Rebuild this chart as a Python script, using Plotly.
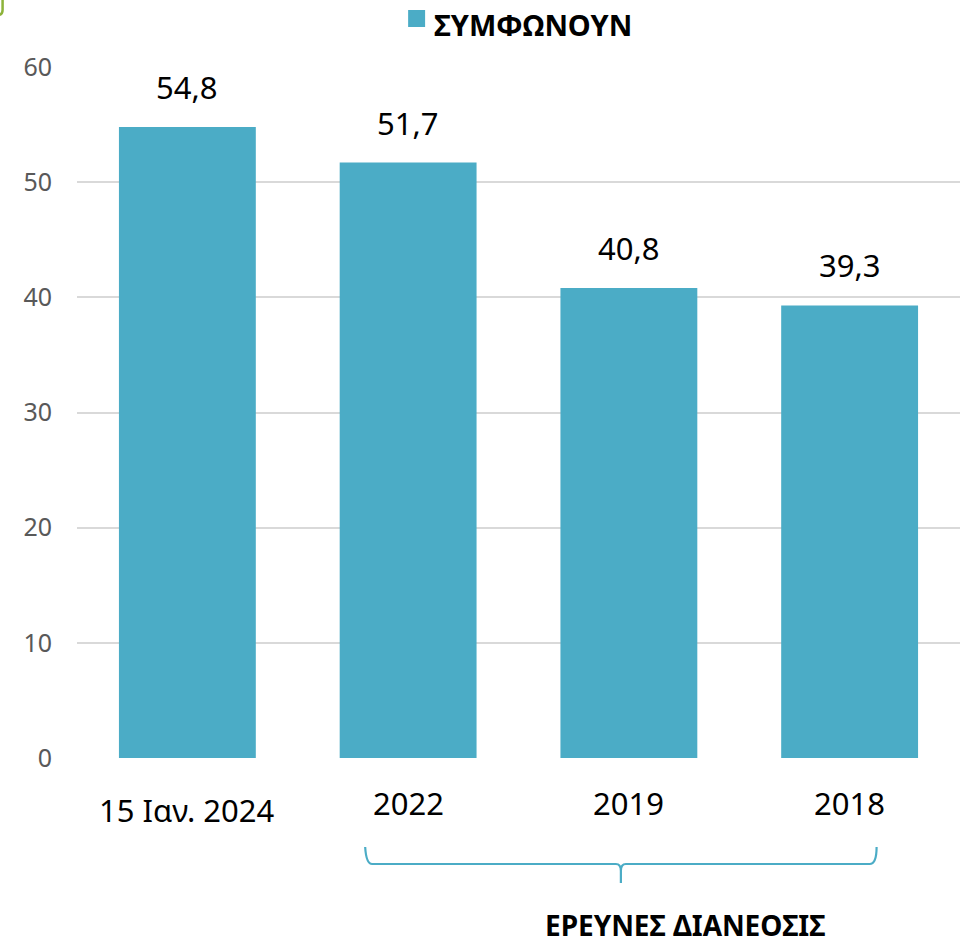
import plotly.graph_objects as go

categories = ["15 Ιαν. 2024", "2022", "2019", "2018"]
values = [54.8, 51.7, 40.8, 39.3]
series_name = "ΣΥΜΦΩΝΟΥΝ"
y_ticks = [0, 10, 20, 30, 40, 50, 60]
bracket_label = "ΕΡΕΥΝΕΣ ΔΙΑΝΕΟΣΙΣ"

BAR = "#4BACC6"
FONT = "Noto Sans"

W, H = 974, 947
L, R, T, B = 76.5, 13.5, 67, 189
pw, ph = W - L - R, H - T - B


def px(xp):
    return (xp - L) / pw


def py(yp):
    return (H - B - yp) / ph


fig = go.Figure()
fig.add_trace(go.Bar(
    x=list(range(len(categories))), y=values, name=series_name,
    marker=dict(color=BAR, line=dict(width=0)),
    width=0.62, showlegend=False, hoverinfo="skip",
))

# value labels
for i, v in enumerate(values):
    fig.add_annotation(
        x=i, y=v, xref="x", yref="y", text=f"{v:.1f}".replace(".", ","),
        showarrow=False, yanchor="bottom", yshift=17,
        font=dict(family=FONT, size=31, color="#000000"),
    )

# category labels (first one sits a little lower, as in the reference)
for i, c in enumerate(categories):
    fig.add_annotation(
        x=i, xref="x", yref="paper", y=py(810 if i == 0 else 803),
        text=c, showarrow=False, xanchor="center", yanchor="middle",
        font=dict(family=FONT, size=31, color="#000000"),
    )

# manual legend
fig.add_shape(type="rect", xref="paper", yref="paper",
              x0=px(408), x1=px(425), y0=py(27), y1=py(10),
              fillcolor=BAR, line=dict(width=0))
fig.add_annotation(xref="paper", yref="paper", x=px(432), y=py(24),
                   text=f"<b>{series_name}</b>", showarrow=False,
                   xanchor="left", yanchor="middle",
                   font=dict(family=FONT, size=29, color="#000000"))

# bracket under the last three categories
y_top = py(847)
y_mid = py(864)
y_tip = py(883)
fig.add_shape(type="path", xref="paper", yref="paper",
              path=(f"M {px(365)} {y_top} Q {px(366)} {y_mid} {px(372)} {y_mid} "
                    f"L {px(616)} {y_mid} Q {px(621)} {y_mid} {px(621)} {py(871)} "
                    f"L {px(621)} {y_tip} M {px(621)} {py(871)} Q {px(621)} {y_mid} {px(626)} {y_mid} "
                    f"L {px(870)} {y_mid} Q {px(877)} {y_mid} {px(877)} {y_top}"),
              line=dict(color=BAR, width=2.2))
fig.add_annotation(xref="paper", yref="paper", x=px(685), y=py(925),
                   text=f"<b>{bracket_label}</b>", showarrow=False,
                   xanchor="center", yanchor="middle",
                   font=dict(family=FONT, size=28, color="#000000"))

# corner fragment at top-left
fig.add_shape(type="path", xref="paper", yref="paper",
              path=(f"M {px(2)} {py(-2)} L {px(2)} {py(10)} "
                    f"Q {px(2)} {py(15)} {px(-3)} {py(15)}"),
              line=dict(color="#8DB33A", width=2.5))

fig.update_layout(
    width=W, height=H,
    margin=dict(l=L, r=R, t=T, b=B, autoexpand=False),
    paper_bgcolor="white", plot_bgcolor="white",
    font=dict(family=FONT),
    showlegend=False,
    hovermode=False,
    xaxis=dict(
        range=[-0.5, len(categories) - 0.5],
        showgrid=False, zeroline=False, showline=False,
        showticklabels=False, ticks="", automargin=False, fixedrange=True,
    ),
    yaxis=dict(
        range=[0, 60], tickvals=y_ticks, showgrid=True, gridcolor="#D9D9D9",
        gridwidth=1.5, zeroline=False, showline=False, ticks="",
        tickfont=dict(family=FONT, size=25, color="#595959"),
        ticklabelstandoff=24, automargin=False, fixedrange=True,
    ),
)

fig.write_html("out.html", config={"displayModeBar": False},
               post_script="document.body.style.margin='0';document.body.style.overflow='hidden';")
